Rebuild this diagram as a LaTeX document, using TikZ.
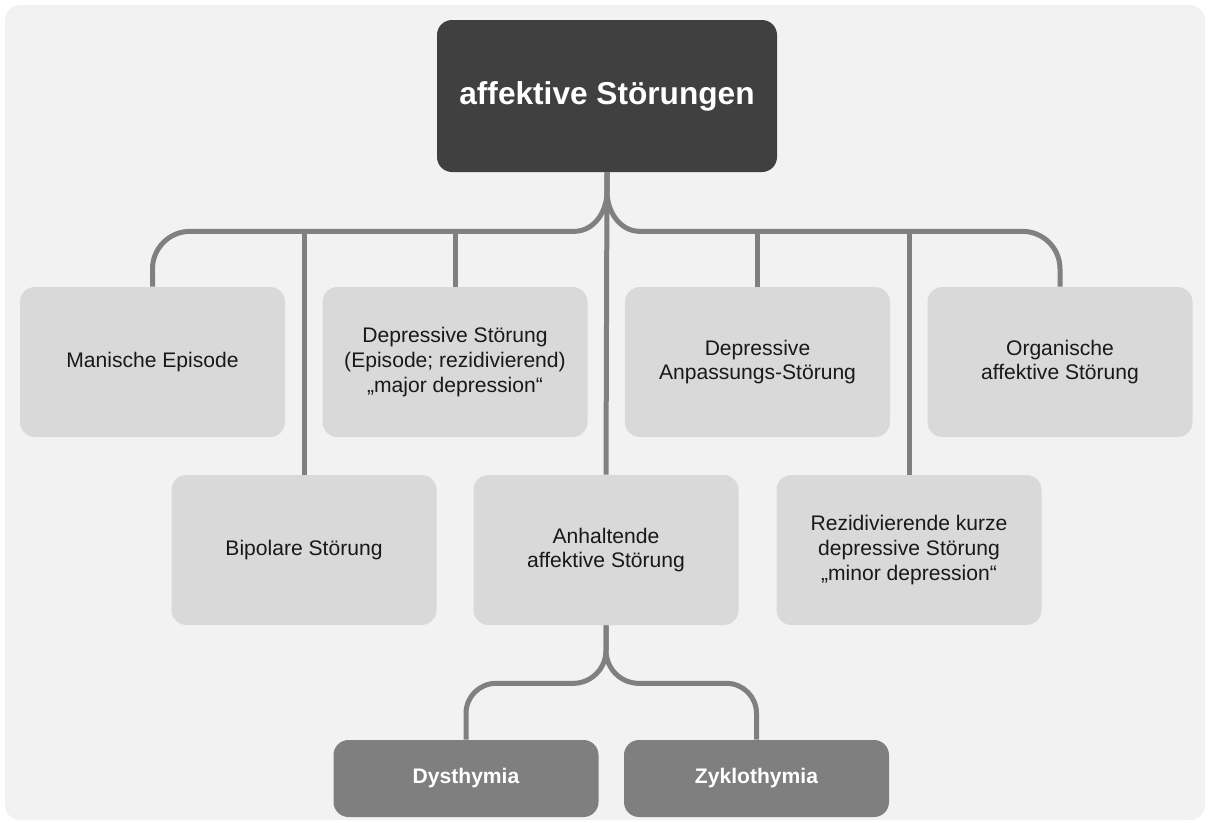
\documentclass[tikz,border=0pt]{standalone}
\usepackage{fontspec}
\setmainfont{Liberation Sans}
\usetikzlibrary{positioning,calc}
\definecolor{bg}{HTML}{F2F2F2}
\definecolor{cat}{HTML}{D9D9D9}
\definecolor{root}{HTML}{404040}
\definecolor{sub}{HTML}{7F7F7F}
\definecolor{wire}{HTML}{808080}
\tikzset{box/.style={fill=cat,rounded corners=0.3cm,align=center,minimum width=5.3cm,minimum height=3cm,inner sep=4pt,font=\fontsize{12}{14}\selectfont,text=black!90},rootbox/.style={box,fill=root,text=white,minimum width=6.8cm,minimum height=3.04cm,font=\bfseries\fontsize{18}{21}\selectfont},subbox/.style={box,fill=sub,text=white,minimum height=1.54cm,font=\bfseries\fontsize{12}{14}\selectfont},conn/.style={draw=wire,line width=0.1cm}}

\begin{document}
\begin{tikzpicture}
\useasboundingbox (0,0) rectangle (24.16,-16.44);
\fill[bg,rounded corners=0.3cm] (0.1,-0.1) rectangle (24.1,-16.4);
% top level
\node[rootbox] (top) at (12.14,-1.92) {affektive Störungen};
% first row
\node[box] (manic) at (3.05,-7.24) {Manische Episode};
\node[box] (depr) at (9.10,-7.24) {Depressive Störung\\(Episode; rezidivierend)\\„major depression“};
\node[box] (anpass) at (15.15,-7.24) {Depressive\\Anpassungs-Störung};
\node[box] (organ) at (21.2,-7.24) {Organische\\affektive Störung};
% second row
\node[box] (bipolar) at (6.08,-11.0) {Bipolare Störung};
\node[box] (anhalt) at (12.12,-11.0) {Anhaltende\\affektive Störung};
\node[box] (rezid) at (18.18,-11.0) {Rezidivierende kurze\\depressive Störung\\„minor depression“};
% bottom
\node[subbox] (dysth) at (9.32,-15.57) {Dysthymia};
\node[subbox] (zyklo) at (15.13,-15.57) {Zyklothymia};
\coordinate (hub) at (12.13,-4.58);
% connectors
\draw[conn] (top.south) -- (anhalt.north);
\draw[conn] (top.south) -- ++(0,-0.38) to[out=-90,in=0] ++(-0.66,-0.8) [rounded corners=0.75cm] -| (manic.north);
\draw[conn] (top.south) -- ++(0,-0.38) to[out=-90,in=180] ++(0.66,-0.8) [rounded corners=0.75cm] -| (organ.north);
\draw[conn] (bipolar.north) -- (bipolar.north |- hub);
\draw[conn] (depr.north) -- (depr.north |- hub);
\draw[conn] (anpass.north) -- (anpass.north |- hub);
\draw[conn] (rezid.north) -- (rezid.north |- hub);
\draw[conn] (anhalt.south) -- ++(0,-0.5) to[out=-90,in=0] ++(-0.66,-0.66) [rounded corners=0.6cm] -| (dysth.north);
\draw[conn] (anhalt.south) -- ++(0,-0.5) to[out=-90,in=180] ++(0.66,-0.66) [rounded corners=0.6cm] -| (zyklo.north);
\end{tikzpicture}
\end{document}
